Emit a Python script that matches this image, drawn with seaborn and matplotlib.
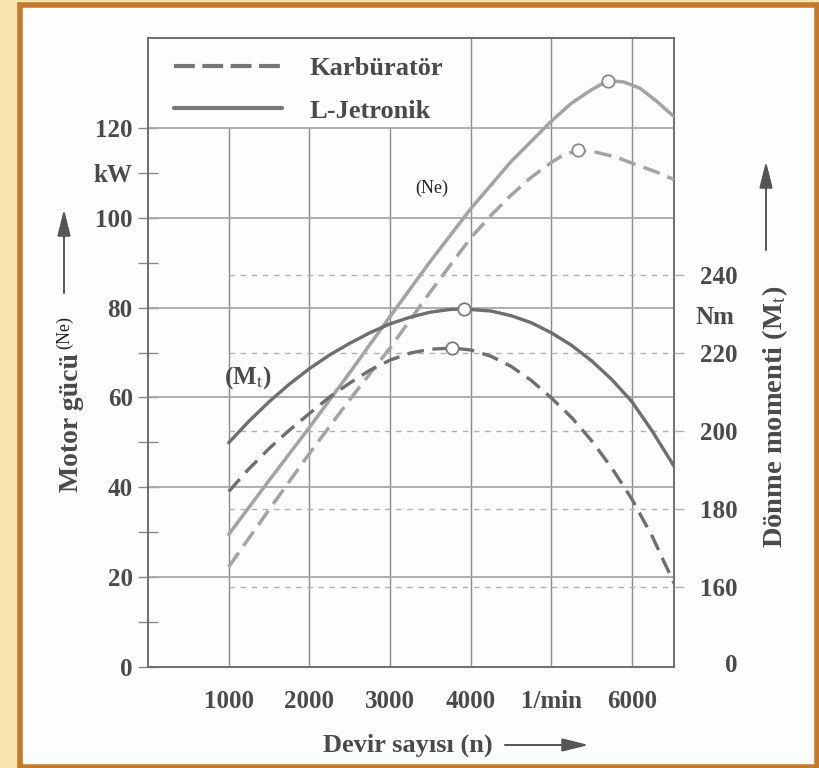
import matplotlib
matplotlib.use("Agg")
import matplotlib.pyplot as plt
import seaborn as sns
from matplotlib.lines import Line2D
from matplotlib.patches import Rectangle

# values
ne_ljet_rpm = [1000, 1500, 2000, 2500, 3000, 3500, 4000, 4500, 4750, 5000, 5250, 5500,
               5700, 5900, 6100, 6300, 6520]
ne_ljet_kw = [29.5, 41.5, 53.3, 65.5, 78, 90.3, 102, 112.5, 117, 121.5, 125.5, 128.5,
              130.5, 130.2, 128.8, 126, 122.5]
ne_karb_rpm = [1000, 1500, 2000, 2500, 3000, 3500, 4000, 4250, 4500, 4750, 5000, 5150,
               5330, 5550, 5800, 6050, 6300, 6520]
ne_karb_kw = [22.3, 35, 47.5, 59.5, 71, 83.5, 95.5, 100.5, 105, 109, 112.3, 114,
              115, 114.6, 113.5, 111.8, 110.2, 108.5]
mt_ljet_rpm = [1000, 1250, 1500, 1750, 2000, 2250, 2500, 2750, 3000, 3250, 3500, 3750,
               3920, 4250, 4500, 4750, 5000, 5250, 5500, 5750, 6000, 6250, 6520]
mt_ljet_nm = [197, 202.5, 207.5, 212, 216, 219.5, 222.5, 225.2, 227.5, 229.2, 230.5, 231.2,
              231.3, 230.8, 229.6, 227.8, 225.2, 222, 218, 213.2, 207.5, 200, 191]
mt_karb_rpm = [1000, 1250, 1500, 1750, 2000, 2250, 2500, 2750, 3000, 3250, 3500, 3770,
               4000, 4250, 4500, 4750, 5000, 5250, 5500, 5750, 6000, 6250, 6520]
mt_karb_nm = [184.5, 190.3, 195.5, 200.2, 204.5, 208.7, 212.3, 215.6, 218.2, 220, 221, 221.3,
              220.8, 219.2, 216.6, 213, 208.5, 203.5, 197.5, 190.5, 182.5, 173, 161]

ne_peak_rpm = [5700, 5330]
ne_peak_kw = [130.5, 115]
mt_peak_rpm = [3920, 3770]
mt_peak_nm = [231.3, 221.3]

x_ticks = [1000, 2000, 3000, 4000, 5000, 6000]
x_labels = ["1000", "2000", "3000", "4000", "1/min", "6000"]
kw_ticks = list(range(0, 121, 10))
kw_labels = ["0", "", "20", "", "40", "", "60", "", "80", "", "100", "kW", "120"]
nm_ticks = [160, 180, 200, 220, 240]
legend_labels = ["Karbüratör", "L-Jetronik"]

sns.set_style("white")
plt.rcParams["font.family"] = ["Liberation Serif", "DejaVu Serif"]
plt.rcParams["mathtext.fontset"] = "stix"

W, H = 819, 768
fig = plt.figure(figsize=(W / 100, H / 100), dpi=100, facecolor="#f7e4ad")


def fx(px):
    return px / W


def fy(py):
    return 1 - py / H


# page with orange border
fig.add_artist(Rectangle((fx(20), fy(767)), fx(816.5) - fx(20), fy(4.5) - fy(767),
                         transform=fig.transFigure, facecolor="#fdfdfd",
                         edgecolor="#c47a2e", lw=4, zorder=0))

ax = fig.add_axes([fx(148), fy(667), fx(674) - fx(148), fy(38) - fy(667)])
ax.set_facecolor("none")
ax.set_xlim(0, 6520)
ax.set_ylim(0, 140)

txt = "#4a4a4a"

# grid lines
for x in x_ticks:
    top = 140 if x >= 4000 else 120
    ax.plot([x, x], [0, top], color="#8a8a8a", lw=1.0, zorder=1)
for y in range(20, 121, 20):
    ax.axhline(y, color="#a8a8a8", lw=1.3, zorder=1)

for s in ax.spines.values():
    s.set_color("#6e6e6e")
    s.set_linewidth(1.4)

ax.set_xticks([0] + x_ticks)
ax.set_xticklabels([""] + x_labels, fontsize=18, fontweight="bold", color=txt)
ax.tick_params(axis="x", direction="inout", length=15, width=1, color="#8a8a8a", pad=9)
ax.set_yticks(kw_ticks)
ax.set_yticklabels(kw_labels, fontsize=18, fontweight="bold", color=txt)
ax.tick_params(axis="y", direction="inout", length=14, width=1, color="#8a8a8a", pad=4)

# power curves
ne_c = "#a3a3a3"
sns.lineplot(x=ne_ljet_rpm, y=ne_ljet_kw, ax=ax, color=ne_c, lw=2.5, zorder=3)
sns.lineplot(x=ne_karb_rpm, y=ne_karb_kw, ax=ax, color=ne_c, lw=2.5,
             linestyle=(0, (5, 2.4)), zorder=3)
sns.scatterplot(x=ne_peak_rpm, y=ne_peak_kw, ax=ax, s=80, facecolor="white",
                edgecolor="#8a8a8a", linewidth=1.3, zorder=5)

# torque axis
ax2 = ax.twinx()
ax2.set_ylim(139.5, 300.8)
for s in ax2.spines.values():
    s.set_visible(False)
for y in nm_ticks:
    ax2.plot([1000, 6520], [y, y], color="#b0b0b0", lw=1.0, linestyle=(0, (4, 4)), zorder=1)
ax2.set_yticks(nm_ticks)
ax2.set_yticklabels([str(v) for v in nm_ticks], fontsize=18, fontweight="bold",
                    color=txt, ha="right")
ax2.tick_params(axis="y", direction="out", length=7, width=1, color="#b0b0b0", pad=39)

mt_c = "#6e6e6e"
sns.lineplot(x=mt_ljet_rpm, y=mt_ljet_nm, ax=ax2, color=mt_c, lw=2.4, zorder=3)
sns.lineplot(x=mt_karb_rpm, y=mt_karb_nm, ax=ax2, color=mt_c, lw=2.4,
             linestyle=(0, (5, 2.6)), zorder=3)
sns.scatterplot(x=mt_peak_rpm, y=mt_peak_nm, ax=ax2, s=80, facecolor="white",
                edgecolor="#7a7a7a", linewidth=1.3, zorder=5)
ax2.set_xlim(0, 6520)

# legend
handles = [Line2D([], [], color="#777777", lw=3, linestyle=(0, (5, 1.8))),
           Line2D([], [], color="#777777", lw=3)]
leg = ax.legend(handles, legend_labels, loc="upper left",
                bbox_to_anchor=(fx(150), fy(33)), bbox_transform=fig.transFigure,
                frameon=False, handlelength=4.1, handletextpad=1.05, labelspacing=0.72,
                prop={"size": 19, "weight": "bold"})
for t in leg.get_texts():
    t.set_color(txt)

# annotations on the plot
fig.text(fx(432), fy(188), "(Ne)", fontsize=13, color="#222222", ha="center", va="center")
fig.text(fx(248), fy(378), r"(M$_\mathrm{t}$)", fontsize=18, fontweight="bold",
         color=txt, ha="center", va="center")
fig.text(fx(696), fy(318), "Nm", fontsize=18, fontweight="bold", color=txt,
         ha="left", va="center")
fig.text(fx(737), fy(665), "0", fontsize=18, fontweight="bold", color=txt,
         ha="right", va="center")

# axis titles with arrows
fig.text(fx(71), fy(492), "Motor gücü", fontsize=20, fontweight="bold", color=txt,
         rotation=90, ha="center", va="bottom")
fig.text(fx(65), fy(349), "(Ne)", fontsize=13, color="#222222",
         rotation=90, ha="center", va="bottom")
fig.text(fx(775), fy(548), r"Dönme momenti (M$_\mathrm{t}$)", fontsize=20.5,
         fontweight="bold", color=txt, rotation=90, ha="center", va="bottom")
fig.text(fx(408), fy(745), "Devir sayısı (n)", fontsize=19, fontweight="bold",
         color=txt, ha="center", va="center")

arrow = dict(arrowstyle="-|>,head_length=0.8,head_width=0.2", color="#555555",
             lw=1.2, mutation_scale=20, shrinkA=0, shrinkB=0)
for start, end in [((64, 293), (64, 210)), ((766, 250), (766, 162)),
                   ((505, 745), (588, 745))]:
    fig.add_artist(plt.annotate("", xy=(fx(end[0]), fy(end[1])),
                                xytext=(fx(start[0]), fy(start[1])),
                                xycoords="figure fraction", textcoords="figure fraction",
                                arrowprops=arrow))

fig.savefig("out.png", dpi=100, facecolor=fig.get_facecolor())
